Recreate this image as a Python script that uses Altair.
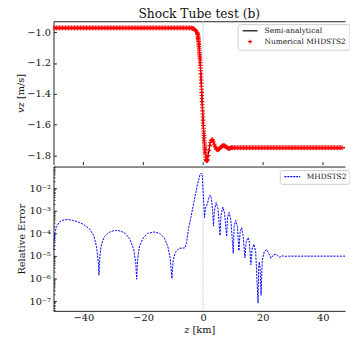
import altair as alt
import pandas as pd

# ---------------- data ----------------
# (the visible window of the reference ends at z ~ 47.5 km)
# semi-analytical velocity profile (z in km, v_z in m/s)
semi_z = [-50.0, -5.0, -4.0, -3.5, -3.0, -2.6, -2.3, -2.0, -1.8, -1.6, -1.4, -1.2, -1.0,
          -0.8, -0.6, -0.4, -0.2, 0.0, 0.2, 0.4, 0.6, 0.8, 1.0, 1.2, 1.4, 1.7, 2.0, 2.4,
          2.8, 3.1, 3.5, 4.0, 4.5, 4.9, 5.4, 6.0, 6.6, 7.1, 7.7, 8.3, 8.9, 9.5, 10.5, 47.5]
semi_v = [-0.972, -0.972, -0.973, -0.975, -0.978, -0.985, -0.992, -1.002, -1.014, -1.04,
          -1.08, -1.13, -1.18, -1.25, -1.33, -1.41, -1.49, -1.57, -1.64, -1.70, -1.75,
          -1.79, -1.825, -1.834, -1.83, -1.80, -1.765, -1.72, -1.70, -1.695, -1.71, -1.74,
          -1.758, -1.763, -1.757, -1.744, -1.736, -1.735, -1.742, -1.75, -1.752, -1.749,
          -1.748, -1.748]

# numerical MHDSTS2 samples
num_z_left = [-50.0, -49.5, -49.0, -48.5, -48.0, -47.5, -47.0, -46.5, -46.0, -45.5, -45.0,
              -44.5, -44.0, -43.5, -43.0, -42.5, -42.0, -41.5, -41.0, -40.5, -40.0, -39.5,
              -39.0, -38.5, -38.0, -37.5, -37.0, -36.5, -36.0, -35.5, -35.0, -34.5, -34.0,
              -33.5, -33.0, -32.5, -32.0, -31.5, -31.0, -30.5, -30.0, -29.5, -29.0, -28.5,
              -28.0, -27.5, -27.0, -26.5, -26.0, -25.5, -25.0, -24.5, -24.0, -23.5, -23.0,
              -22.5, -22.0, -21.5, -21.0, -20.5, -20.0, -19.5, -19.0, -18.5, -18.0, -17.5,
              -17.0, -16.5, -16.0, -15.5, -15.0, -14.5, -14.0, -13.5, -13.0, -12.5, -12.0,
              -11.5, -11.0, -10.5, -10.0, -9.5, -9.0, -8.5, -8.0, -7.5, -7.0, -6.5, -6.0,
              -5.5, -5.0, -4.5, -4.0]
num_v_left = [-0.972] * len(num_z_left)

num_z_mid = [-3.75, -3.5, -3.25, -3.0, -2.75, -2.5, -2.25, -2.0, -1.9, -1.8, -1.7, -1.65,
             -1.6, -1.55, -1.5, -1.45, -1.4, -1.35, -1.3, -1.25, -1.2, -1.15, -1.1, -1.05,
             -1.0, -0.95, -0.9, -0.85, -0.8, -0.75, -0.7, -0.65, -0.6, -0.55, -0.5, -0.45,
             -0.4, -0.35, -0.3, -0.25, -0.2, -0.15, -0.1, -0.05, 0.0, 0.05, 0.1, 0.15, 0.2,
             0.25, 0.3, 0.35, 0.4, 0.45, 0.5, 0.55, 0.6, 0.65, 0.7, 0.75, 0.8, 0.9, 1.0, 1.1,
             1.2, 1.3, 1.4, 1.5, 1.75, 2.0, 2.25, 2.5, 2.75, 3.0, 3.25, 3.5, 3.75, 4.0, 4.25,
             4.5, 4.75, 5.0, 5.25, 5.5, 5.75, 6.0, 6.25, 6.5, 6.75, 7.0, 7.25, 7.5, 7.75, 8.0,
             8.25, 8.5, 8.75, 9.0, 9.25, 9.5, 9.75, 10.0]
num_v_mid = [-0.974, -0.975, -0.977, -0.979, -0.983, -0.988, -0.994, -1.002, -1.007, -1.014,
             -1.025, -1.032, -1.04, -1.05, -1.06, -1.07, -1.08, -1.092, -1.104, -1.117, -1.13,
             -1.142, -1.155, -1.168, -1.18, -1.197, -1.215, -1.232, -1.25, -1.27, -1.29,
             -1.31, -1.33, -1.35, -1.37, -1.39, -1.41, -1.43, -1.45, -1.47, -1.49, -1.51,
             -1.53, -1.55, -1.57, -1.588, -1.605, -1.623, -1.64, -1.655, -1.67, -1.685, -1.70,
             -1.713, -1.725, -1.738, -1.75, -1.76, -1.77, -1.78, -1.79, -1.808, -1.825, -1.832,
             -1.834, -1.833, -1.83, -1.823, -1.80, -1.765, -1.735, -1.715, -1.702, -1.696,
             -1.698, -1.71, -1.726, -1.74, -1.751, -1.758, -1.762, -1.763, -1.76, -1.755,
             -1.749, -1.744, -1.74, -1.737, -1.735, -1.735, -1.737, -1.74, -1.744, -1.748,
             -1.751, -1.753, -1.753, -1.752, -1.75, -1.749, -1.748, -1.748]

num_z_right = [10.5, 11.0, 11.5, 12.0, 12.5, 13.0, 13.5, 14.0, 14.5, 15.0, 15.5, 16.0, 16.5,
               17.0, 17.5, 18.0, 18.5, 19.0, 19.5, 20.0, 20.5, 21.0, 21.5, 22.0, 22.5, 23.0,
               23.5, 24.0, 24.5, 25.0, 25.5, 26.0, 26.5, 27.0, 27.5, 28.0, 28.5, 29.0, 29.5,
               30.0, 30.5, 31.0, 31.5, 32.0, 32.5, 33.0, 33.5, 34.0, 34.5, 35.0, 35.5, 36.0,
               36.5, 37.0, 37.5, 38.0, 38.5, 39.0, 39.5, 40.0, 40.5, 41.0, 41.5, 42.0, 42.5,
               43.0, 43.5, 44.0, 44.5, 45.0, 45.5, 46.0, 46.5]
num_v_right = [-1.748] * len(num_z_right)

# relative error of MHDSTS2
err_z = [-50.0, -49.8, -49.5, -49.0, -48.0, -47.0, -45.5, -44.0, -42.0, -40.0, -38.0, -36.5,
         -35.6, -35.0, -34.8, -34.5, -34.0, -33.0, -31.5, -30.0, -28.9, -27.5, -26.0, -24.5,
         -23.2, -22.5, -22.2, -21.9, -21.3, -20.0, -18.5, -16.4, -14.5, -13.0, -11.8, -11.0,
         -10.4, -10.0, -9.3, -8.8, -8.0, -7.0, -6.0, -5.5, -4.9, -4.0, -2.7, -1.8, -1.0,
         -0.55, -0.2, 0.0, 0.3, 0.5, 0.8, 1.1, 1.5, 2.0, 2.4, 2.8, 3.2, 3.5, 3.8, 4.4, 5.0,
         5.7, 6.0, 6.6, 7.2, 7.9, 8.2, 8.7, 9.3, 10.1, 10.4, 10.9, 11.5, 12.0, 12.4, 12.9,
         13.4, 14.0, 14.4, 15.1, 15.5, 16.0, 16.4, 17.0, 17.6, 18.4, 18.6, 18.8, 19.1, 19.4,
         19.8, 20.5, 21.3, 22.0, 22.7, 23.5, 24.3, 25.0, 25.7, 26.3, 26.8, 27.4, 28.0, 47.5]
err_v = [1.8e-5, 5.0e-5, 1.1e-4, 2.0e-4, 3.2e-4, 3.8e-4, 4.1e-4, 3.9e-4, 3.3e-4, 2.5e-4,
         1.6e-4, 7.9e-5, 2.5e-5, 5.0e-6, 1.4e-6, 1.0e-5, 3.2e-5, 7.1e-5, 1.1e-4, 1.3e-4,
         1.35e-4, 1.26e-4, 1.0e-4, 5.6e-5, 2.0e-5, 5.0e-6, 9.3e-7, 6.3e-6, 2.5e-5, 6.3e-5,
         1.0e-4, 1.15e-4, 1.0e-4, 6.3e-5, 2.8e-5, 7.9e-6, 1.0e-6, 6.3e-6, 1.4e-5, 1.7e-5,
         2.2e-5, 2.2e-5, 2.3e-5, 4.0e-5, 1.5e-4, 5.6e-4, 4.2e-3, 1.6e-2, 4.0e-2, 4.7e-2,
         3.2e-2, 8.1e-3, 1.6e-3, 5.0e-4, 1.26e-3, 1.6e-3, 2.2e-3, 4.0e-3, 5.0e-3, 3.5e-3,
         1.0e-3, 2.1e-4, 1.0e-3, 2.3e-3, 1.26e-3, 8.1e-5, 6.3e-4, 1.45e-3, 7.9e-4, 7.2e-5,
         5.0e-4, 8.5e-4, 4.0e-4, 1.3e-5, 2.0e-4, 3.8e-4, 2.0e-4, 1.7e-5, 1.1e-4, 1.8e-4,
         7.9e-5, 8.1e-6, 4.0e-5, 6.5e-5, 4.0e-5, 4.1e-6, 2.0e-5, 3.3e-5, 1.6e-5, 8.1e-8,
         3.2e-6, 5.4e-6, 2.5e-6, 1.8e-7, 6.3e-6, 1.6e-5, 1.9e-5, 1.26e-5, 7.9e-6, 1.1e-5,
         1.2e-5, 1.0e-5, 8.7e-6, 1.0e-5, 1.0e-5, 9.5e-6, 9.8e-6, 9.8e-6]

shock_z = [0.0]

x_ticks = [-40, -20, 0, 20, 40]
v_ticks = [-1.8, -1.6, -1.4, -1.2, -1.0]
err_ticks = [1e-7, 1e-6, 1e-5, 1e-4, 1e-3, 1e-2]

S_LABEL = "Semi-analytical"
N_LABEL = "Numerical MHDSTS2"
E_LABEL = "MHDSTS2"

FONT = "DejaVu Serif"
PLUS = "M-1,0H1M0,-1V1"
LEG_LINE = "M-3.8,0H3.8"
AX = "#222222"

X_DOM = [-50, 47.5]          # the plot runs on past the right edge of the window
V_DOM = [-1.858, -0.929]
E_DOM = [3.7e-8, 0.091]
err_minor = [m * 10.0 ** e for e in range(-8, -1) for m in range(2, 10)
             if E_DOM[0] <= m * 10.0 ** e <= E_DOM[1]]

semi_df = pd.DataFrame({"z": semi_z, "v": semi_v})
num_df = pd.DataFrame({"z": num_z_left + num_z_mid + num_z_right,
                       "v": num_v_left + num_v_mid + num_v_right})
num_df["series"] = N_LABEL
err_df = pd.DataFrame({"z": err_z, "err": err_v})
err_df["series"] = E_LABEL
shock_df = pd.DataFrame({"z": shock_z})

W = 297
H1 = 146
H2 = 147

xs = alt.Scale(domain=X_DOM, nice=False, zero=False)
vs = alt.Scale(domain=V_DOM, nice=False, zero=False)
es = alt.Scale(type="log", domain=E_DOM, nice=False)

tick_only = dict(labels=False, domain=False, grid=False, tickColor=AX,
                 tickWidth=1, title=None, minExtent=0, maxExtent=0)
frame_only = dict(labels=False, ticks=False, grid=False, domain=True, domainColor=AX,
                  domainWidth=1, title=None, minExtent=0, maxExtent=0)

# ---------------- top panel ----------------
rule_top = alt.Chart(shock_df).mark_rule(color="#9ecae1", strokeDash=[1, 1], strokeWidth=1).encode(
    x=alt.X("z:Q", scale=xs, axis=alt.Axis(orient="top", **frame_only)))

semi_line = alt.Chart(semi_df).mark_line(color="black", strokeWidth=1.2, clip=True).encode(
    x=alt.X("z:Q", scale=xs, axis=alt.Axis(values=x_ticks, orient="bottom", offset=-3,
                                           tickSize=3, **tick_only)),
    y=alt.Y("v:Q", scale=vs, axis=alt.Axis(values=v_ticks, orient="left", format=".1f",
                                           ticks=False, domain=True, domainColor=AX,
                                           grid=False, labelPadding=3, title="𝑣𝑧 [m/s]",
                                           titlePadding=1)))

leg_top = alt.Legend(title=None, orient="none", legendX=187.5, legendY=3, padding=3,
                     strokeColor="#cccccc", fillColor="white", cornerRadius=2,
                     labelFont=FONT, labelFontSize=7.5, labelColor="#111",
                     symbolSize=16, symbolStrokeWidth=1.2, symbolOffset=6,
                     labelOffset=11, rowPadding=2, symbolFillColor="transparent")

num_pts = alt.Chart(num_df).mark_point(filled=False, strokeWidth=1.1, size=22, opacity=1,
                                       clip=True).encode(
    x=alt.X("z:Q", scale=xs, axis=None),
    y=alt.Y("v:Q", scale=vs, axis=alt.Axis(values=v_ticks, orient="left", offset=-3,
                                           tickSize=3, **tick_only)),
    color=alt.Color("series:N", scale=alt.Scale(domain=[S_LABEL, N_LABEL],
                                                range=["black", "red"]), legend=leg_top),
    shape=alt.Shape("series:N", scale=alt.Scale(domain=[S_LABEL, N_LABEL],
                                                range=[LEG_LINE, PLUS]), legend=leg_top))

top = alt.layer(rule_top, semi_line, num_pts).resolve_axis(x="independent", y="independent").properties(
    width=W, height=H1,
    title=alt.TitleParams("Shock Tube test (b)", font=FONT, fontSize=12.5, fontWeight="normal",
                          anchor="middle", offset=0, color="#111", frame="group"))

# ---------------- bottom panel ----------------
sup = "['⁰','¹','²','³','⁴','⁵','⁶','⁷','⁸','⁹']"

rule_bot = alt.Chart(shock_df).mark_rule(color="#9ecae1", strokeDash=[1, 1], strokeWidth=1).encode(
    x=alt.X("z:Q", scale=xs, axis=alt.Axis(orient="top", **frame_only)))

inv_major = alt.Chart(err_df).mark_point(opacity=0).encode(
    x=alt.X("z:Q", scale=xs, axis=None),
    y=alt.Y("err:Q", scale=es, axis=alt.Axis(values=err_ticks, orient="left", offset=-3,
                                             tickSize=3, **tick_only)))

inv_minor = alt.Chart(err_df).mark_point(opacity=0).encode(
    x=alt.X("z:Q", scale=xs, axis=None),
    y=alt.Y("err:Q", scale=es, axis=alt.Axis(values=err_minor, orient="left", offset=-1.5,
                                             tickSize=1.5, **tick_only)))

leg_bot = alt.Legend(title=None, orient="none", legendX=230.5, legendY=3.6, padding=3,
                     strokeColor="#cccccc", fillColor="white", cornerRadius=2,
                     labelFont=FONT, labelFontSize=7.5, labelColor="#111",
                     symbolType="M-4,0H4", symbolSize=16, symbolStrokeWidth=1.2,
                     symbolDash=[2, 1], symbolOffset=6, labelOffset=11)

err_line = alt.Chart(err_df).mark_line(strokeWidth=1, strokeDash=[2.2, 1.1], clip=True).encode(
    x=alt.X("z:Q", scale=xs, axis=alt.Axis(values=x_ticks, orient="bottom", ticks=False,
                                           domain=True, domainColor=AX, grid=False,
                                           labelPadding=2, title="𝑧 [km]", titlePadding=2)),
    y=alt.Y("err:Q", scale=es, axis=alt.Axis(values=err_ticks, orient="left", ticks=False,
                                             domain=True, domainColor=AX, grid=False,
                                             labelPadding=3,
                                             labelExpr="'10⁻' + " + sup + "[-round(log(datum.value)/LN10)]",
                                             title="Relative Error", titlePadding=3)),
    color=alt.Color("series:N", scale=alt.Scale(domain=[E_LABEL], range=["blue"]), legend=leg_bot))

bottom = alt.layer(rule_bot, inv_major, inv_minor, err_line).resolve_axis(
    x="independent", y="independent").properties(width=W, height=H2)

chart = alt.vconcat(top, bottom, spacing=0).resolve_scale(
    color="independent", shape="independent").resolve_legend(
    color="independent", shape="independent").properties(
    padding={"left": 15.5, "top": 5.5, "right": 0, "bottom": 0},
).configure(font=FONT).configure_view(stroke=None).configure_axis(
    labelFont=FONT, titleFont=FONT, labelFontSize=10, titleFontSize=10,
    labelColor="#111", titleColor="#111", titleFontWeight="normal")

chart.save("out.html", embed_options={"renderer": "svg", "actions": False})
